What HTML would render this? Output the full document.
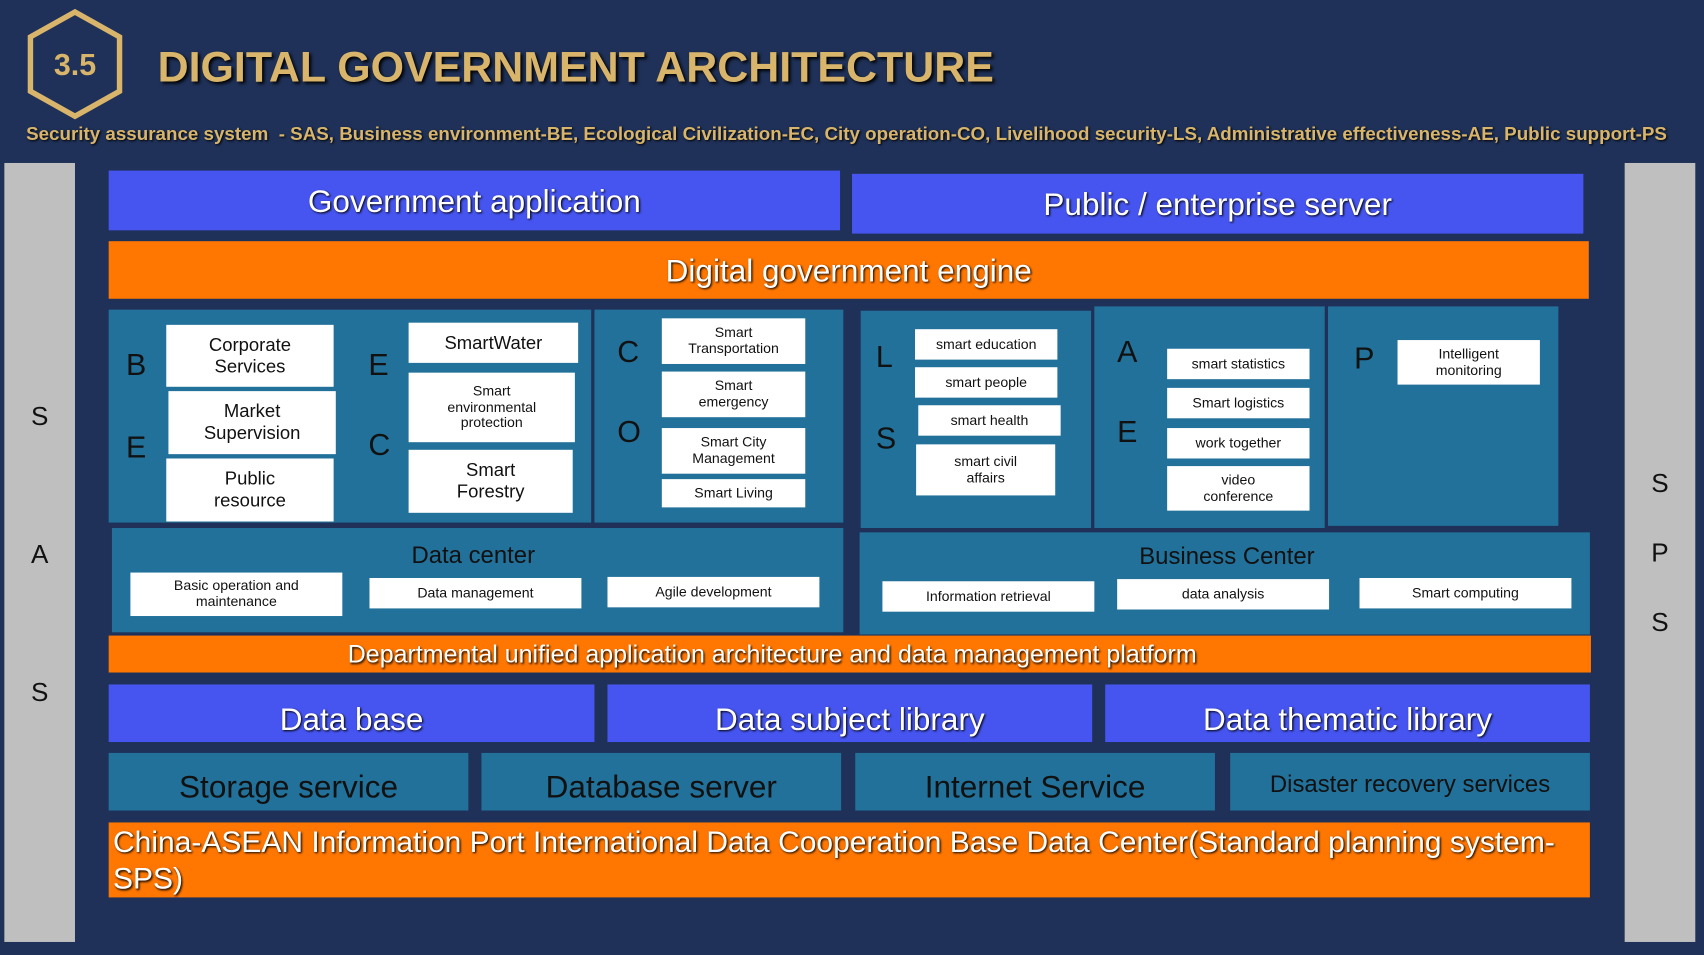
<!DOCTYPE html>
<html><head><meta charset="utf-8"><style>
html,body{margin:0;padding:0;background:#1f3158;overflow:hidden}
#w{position:absolute;left:0;top:0;width:1568px;height:879px;transform:scale(1.08673,1.08646);transform-origin:0 0;font-family:"Liberation Sans",sans-serif}
.a{position:absolute;box-sizing:border-box;display:flex;align-items:center;justify-content:center;text-align:center;line-height:1.15}
.b{background:#4655f0;color:#fff;text-shadow:1px 1px 2px #000}
.o{background:#ff7700;color:#fff;text-shadow:1px 1px 2px #000}
.t{background:#22719a}
.g{background:#bfbfbf}
.gl{position:absolute;color:#111;font-size:24px;width:65px;text-align:center}
.w{background:#fff;color:#111;font-size:13px}
.L{position:absolute;color:#111;font-size:28px}
.h{position:absolute;color:#111;font-size:22px}
</style></head><body><div id="w">
<svg class="a" style="left:22px;top:8px;width:94px;height:102px" viewBox="0 0 94 102"><polygon points="47,3 88,26 88,76 47,99 6,76 6,26" fill="none" stroke="#d8b56a" stroke-width="5"/></svg>
<div class="a" style="left:22px;top:38px;width:94px;height:44px;color:#d8b56a;font-size:28px;font-weight:bold">3.5</div>
<div class="a" style="left:145px;top:38px;height:50px;color:#d8b56a;font-size:39.5px;font-weight:bold;justify-content:flex-start;white-space:nowrap;text-shadow:2px 2px 3px #000">DIGITAL GOVERNMENT ARCHITECTURE</div>
<div class="a" style="left:24px;top:112px;width:1540px;height:24px;color:#d8b56a;font-size:17.3px;font-weight:bold;justify-content:flex-start;white-space:nowrap;text-shadow:1px 1px 2px #000">Security assurance system &nbsp;- SAS, Business environment-BE, Ecological Civilization-EC, City operation-CO, Livelihood security-LS, Administrative effectiveness-AE, Public support-PS</div>
<div class="a g" style="left:4px;top:150px;width:65px;height:717px"></div>
<div class="gl" style="left:4px;top:370px">S</div><div class="gl" style="left:4px;top:497px">A</div><div class="gl" style="left:4px;top:624px">S</div>
<div class="a g" style="left:1495px;top:150px;width:65px;height:717px"></div>
<div class="gl" style="left:1495px;top:432px">S</div><div class="gl" style="left:1495px;top:496px">P</div><div class="gl" style="left:1495px;top:560px">S</div>
<div class="a b" style="left:100px;top:157px;width:673px;height:55px;font-size:29px;padding-top:5px">Government application</div>
<div class="a b" style="left:784px;top:160px;width:673px;height:55px;font-size:29px;padding-top:5px">Public / enterprise server</div>
<div class="a o" style="left:100px;top:222px;width:1362px;height:53px;font-size:29px;padding-top:4px">Digital government engine</div>
<div class="a t" style="left:100px;top:285px;width:444px;height:196px"></div>
<div class="a t" style="left:547px;top:285px;width:229px;height:196px"></div>
<div class="a t" style="left:792px;top:286px;width:212px;height:200px"></div>
<div class="a t" style="left:1007px;top:282px;width:212px;height:204px"></div>
<div class="a t" style="left:1222px;top:282px;width:212px;height:202px"></div>
<div class="L" style="left:116px;top:320px">B</div><div class="L" style="left:116px;top:396px">E</div>
<div class="a w" style="left:153px;top:299px;width:154px;height:57px;font-size:17px">Corporate<br>Services</div>
<div class="a w" style="left:155px;top:360px;width:154px;height:58px;font-size:17px">Market<br>Supervision</div>
<div class="a w" style="left:153px;top:422px;width:154px;height:58px;font-size:17px">Public<br>resource</div>
<div class="L" style="left:339px;top:320px">E</div><div class="L" style="left:339px;top:394px">C</div>
<div class="a w" style="left:376px;top:297px;width:156px;height:37px;font-size:17px">SmartWater</div>
<div class="a w" style="left:376px;top:343px;width:153px;height:64px">Smart<br>environmental<br>protection</div>
<div class="a w" style="left:376px;top:414px;width:151px;height:58px;font-size:17px">Smart<br>Forestry</div>
<div class="L" style="left:568px;top:308px">C</div><div class="L" style="left:568px;top:382px">O</div>
<div class="a w" style="left:609px;top:293px;width:132px;height:42px">Smart<br>Transportation</div>
<div class="a w" style="left:609px;top:342px;width:132px;height:42px">Smart<br>emergency</div>
<div class="a w" style="left:609px;top:394px;width:132px;height:42px">Smart City<br>Management</div>
<div class="a w" style="left:609px;top:441px;width:132px;height:26px">Smart Living</div>
<div class="L" style="left:806px;top:313px">L</div><div class="L" style="left:806px;top:388px">S</div>
<div class="a w" style="left:842px;top:303px;width:131px;height:28px">smart education</div>
<div class="a w" style="left:842px;top:338px;width:131px;height:28px">smart people</div>
<div class="a w" style="left:845px;top:373px;width:131px;height:28px">smart health</div>
<div class="a w" style="left:843px;top:409px;width:128px;height:47px">smart civil<br>affairs</div>
<div class="L" style="left:1028px;top:308px">A</div><div class="L" style="left:1028px;top:382px">E</div>
<div class="a w" style="left:1074px;top:321px;width:131px;height:28px">smart statistics</div>
<div class="a w" style="left:1074px;top:357px;width:131px;height:28px">Smart logistics</div>
<div class="a w" style="left:1074px;top:394px;width:131px;height:28px">work together</div>
<div class="a w" style="left:1074px;top:429px;width:131px;height:41px">video<br>conference</div>
<div class="L" style="left:1246px;top:314px">P</div>
<div class="a w" style="left:1286px;top:313px;width:131px;height:41px">Intelligent<br>monitoring</div>
<div class="a t" style="left:103px;top:486px;width:673px;height:96px"></div>
<div class="a h" style="left:103px;top:497px;width:665px;height:28px;position:absolute">Data center</div>
<div class="a w" style="left:120px;top:527px;width:195px;height:40px">Basic operation and<br>maintenance</div>
<div class="a w" style="left:340px;top:532px;width:195px;height:28px">Data management</div>
<div class="a w" style="left:559px;top:531px;width:195px;height:28px">Agile development</div>
<div class="a t" style="left:791px;top:490px;width:672px;height:94px"></div>
<div class="a h" style="left:791px;top:498px;width:676px;height:28px;position:absolute">Business Center</div>
<div class="a w" style="left:812px;top:535px;width:195px;height:28px">Information retrieval</div>
<div class="a w" style="left:1028px;top:533px;width:195px;height:28px">data analysis</div>
<div class="a w" style="left:1251px;top:532px;width:195px;height:28px">Smart computing</div>
<div class="a o" style="left:100px;top:585px;width:1364px;height:34px;font-size:23px;justify-content:flex-start;padding-left:220px;white-space:nowrap">Departmental unified application architecture and data management platform</div>
<div class="a b" style="left:100px;top:630px;width:447px;height:53px;font-size:29px;padding-top:14px">Data base</div>
<div class="a b" style="left:559px;top:630px;width:446px;height:53px;font-size:29px;padding-top:14px">Data subject library</div>
<div class="a b" style="left:1017px;top:630px;width:446px;height:53px;font-size:29px;padding-top:14px">Data thematic library</div>
<div class="a t" style="left:100px;top:693px;width:331px;height:53px;font-size:29px;color:#111;padding-top:12px">Storage service</div>
<div class="a t" style="left:443px;top:693px;width:331px;height:53px;font-size:29px;color:#111;padding-top:12px">Database server</div>
<div class="a t" style="left:787px;top:693px;width:331px;height:53px;font-size:29px;color:#111;padding-top:12px">Internet Service</div>
<div class="a t" style="left:1132px;top:693px;width:331px;height:53px;font-size:22px;color:#111;padding-top:4px">Disaster recovery services</div>
<div class="a o" style="left:100px;top:757px;width:1363px;height:69px;font-size:27.6px;justify-content:flex-start;text-align:left;padding:0 4px;line-height:1.2;white-space:nowrap">China-ASEAN Information Port International Data Cooperation Base Data Center(Standard planning system-<br>SPS)</div>
</div></body></html>
